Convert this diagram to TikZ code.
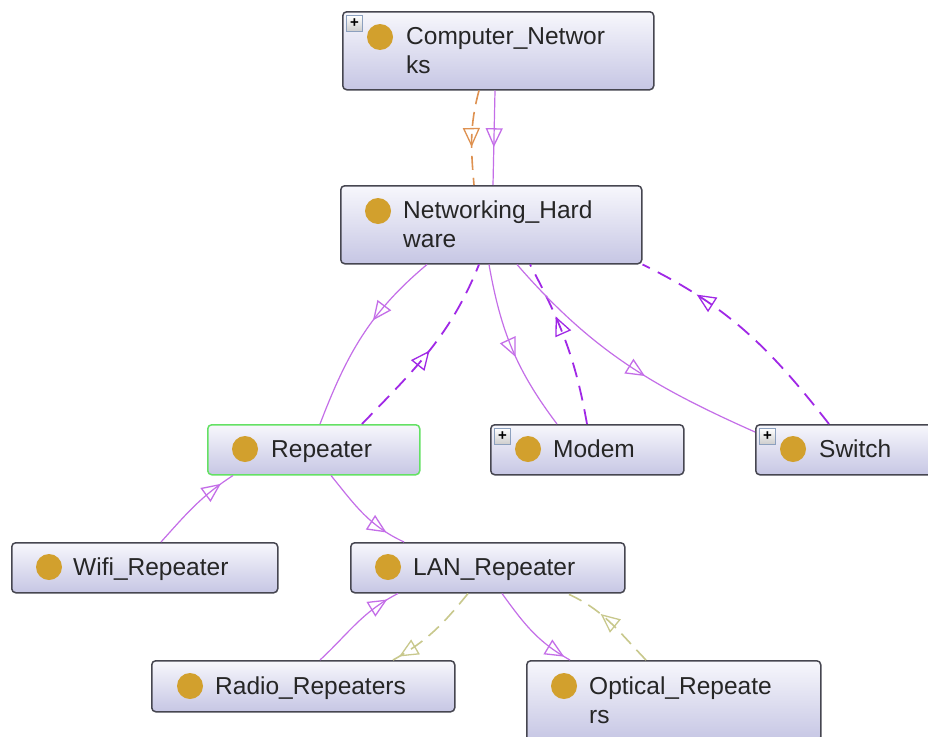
\documentclass[tikz,border=0pt]{standalone}
\usepackage{fontspec}
\setmainfont{Liberation Sans}
\usetikzlibrary{arrows.meta,decorations.markings}
\definecolor{gold}{RGB}{210,160,45}
\definecolor{solidp}{RGB}{196,110,232}
\definecolor{dashp}{RGB}{160,40,230}
\definecolor{orng}{RGB}{222,145,80}
\definecolor{olivec}{RGB}{200,200,140}
\definecolor{boxtop}{RGB}{247,247,252}
\definecolor{boxbot}{RGB}{198,198,228}
\definecolor{boxline}{RGB}{70,70,80}
\definecolor{selgreen}{RGB}{100,225,100}
\definecolor{plusline}{RGB}{140,160,190}
\tikzset{
  box/.style={draw=boxline, line width=1.5pt, rounded corners=4pt, top color=boxtop, bottom color=boxbot, anchor=north west, inner sep=0pt},
  dot/.style={circle, fill=gold, minimum size=26pt, inner sep=0pt},
  lbl/.style={anchor=base west, inner sep=0pt, font=\fontsize{24.5}{29}\selectfont, text=black!85},
  plusbox/.style={draw=plusline, line width=0.9pt, top color=white, bottom color=black!20, minimum size=16pt, inner sep=0pt, anchor=north west, font=\bfseries\fontsize{15}{15}\selectfont},
  tri/.style={postaction={decorate,decoration={markings,mark=at position #1 with {\arrow{Triangle[open,length=19pt,width=17pt,line width=1.3pt]}}}}},
  solidedge/.style={draw=solidp, line width=1.2pt},
  dashedge/.style={draw=dashp, line width=1.8pt, dash pattern=on 15pt off 9pt},
  orngedge/.style={draw=orng, line width=1.6pt, dash pattern=on 14pt off 8pt},
  oliveedge/.style={draw=olivec, line width=1.6pt, dash pattern=on 14pt off 8pt},
}
\begin{document}
\begin{tikzpicture}[x=1pt,y=1pt]
\useasboundingbox (0,0) rectangle (928,-736);
\clip (0,0) rectangle (928,-736);
\fill[white] (0,0) rectangle (928,-736);

% boxes
\node[box, minimum width=311pt, minimum height=78pt] (cn) at (342,-11) {};
\node[box, minimum width=301pt, minimum height=78pt] (nh) at (340,-185) {};
\node[box, draw=selgreen, minimum width=212pt, minimum height=50pt] (rep) at (207,-424) {};
\node[box, minimum width=193pt, minimum height=50pt] (mod) at (490,-424) {};
\node[box, minimum width=200pt, minimum height=50pt] (sw) at (755,-424) {};
\node[box, minimum width=266pt, minimum height=50pt] (wifi) at (11,-542) {};
\node[box, minimum width=274pt, minimum height=50pt] (lan) at (350,-542) {};
\node[box, minimum width=303pt, minimum height=51pt] (rad) at (151,-660) {};
\node[box, minimum width=294pt, minimum height=80pt] (opt) at (526,-660) {};

% plus icons
\node[plusbox] (cnp) at (346,-15) {+};
\node[plusbox] (modp) at (494,-428) {+};
\node[plusbox] (swp) at (759,-428) {+};

% dots
\node[dot] (cnd) at (380,-37) {};
\node[dot] (nhd) at (378,-211) {};
\node[dot] (repd) at (245,-449) {};
\node[dot] (modd) at (528,-449) {};
\node[dot] (swd) at (793,-449) {};
\node[dot] (wifid) at (49,-567) {};
\node[dot] (land) at (388,-567) {};
\node[dot] (radd) at (190,-686) {};
\node[dot] (optd) at (564,-686) {};

% labels
\node[lbl] (cnt) at (406,-44) {\vtop{\hbox{Computer\_Networ}\hbox{ks}}};
\node[lbl] (nht) at (403,-218) {\vtop{\hbox{Networking\_Hard}\hbox{ware}}};
\node[lbl] (rept) at (271,-457) {Repeater};
\node[lbl] (modt) at (553,-457) {Modem};
\node[lbl] (swt) at (819,-457) {Switch};
\node[lbl] (wifit) at (73,-575) {Wifi\_Repeater};
\node[lbl] (lant) at (413,-575) {LAN\_Repeater};
\node[lbl] (radt) at (215,-694) {Radio\_Repeaters};
\node[lbl] (optt) at (589,-694) {\vtop{\hbox{Optical\_Repeate}\hbox{rs}}};

% edges
\draw[orngedge, tri=0.6] ([xshift=137pt]cn.south west) to[out=255,in=95] ([xshift=134pt]nh.north west);
\draw[solidedge, tri=0.6] ([xshift=153pt]cn.south west) -- ([xshift=153pt]nh.north west);

\draw[solidedge, tri=0.4] ([xshift=87pt]nh.south west) to[out=220,in=69] ([xshift=113pt]rep.north west);
\draw[dashedge, tri=0.5] ([xshift=155pt]rep.north west) to[out=46,in=248] ([xshift=139pt]nh.south west);
\draw[solidedge, tri=0.55] ([xshift=149pt]nh.south west) to[out=280,in=127] ([xshift=67pt]mod.north west);
\draw[dashedge, tri=0.66] ([xshift=97pt]mod.north west) to[out=100,in=298] ([xshift=190pt]nh.south west);
\draw[solidedge, tri=0.58] ([xshift=177pt]nh.south west) to[out=311,in=156] ([yshift=-8pt]sw.north west);
\draw[dashedge, tri=0.75] ([xshift=74pt]sw.north west) to[out=128,in=334] (nh.south east);

\draw[solidedge, tri=0.85] ([xshift=150pt]wifi.north west) to[out=48,in=213] ([xshift=26pt]rep.south west);
\draw[solidedge, tri=0.8] ([xshift=124pt]rep.south west) to[out=309,in=155] ([xshift=54pt]lan.north west);

\draw[solidedge, tri=0.88] ([xshift=169pt]rad.north west) to[out=43,in=207] ([xshift=48pt]lan.south west);
\draw[oliveedge, tri=0.93] ([xshift=118pt]lan.south west) to[out=231,in=29] ([xshift=242pt]rad.north west);
\draw[solidedge, tri=0.93] ([xshift=152pt]lan.south west) to[out=306,in=151] ([xshift=44pt]opt.north west);
\draw[oliveedge, tri=0.62] ([xshift=120pt]opt.north west) to[out=134,in=336] ([xshift=217pt]lan.south west);
\end{tikzpicture}
\end{document}
